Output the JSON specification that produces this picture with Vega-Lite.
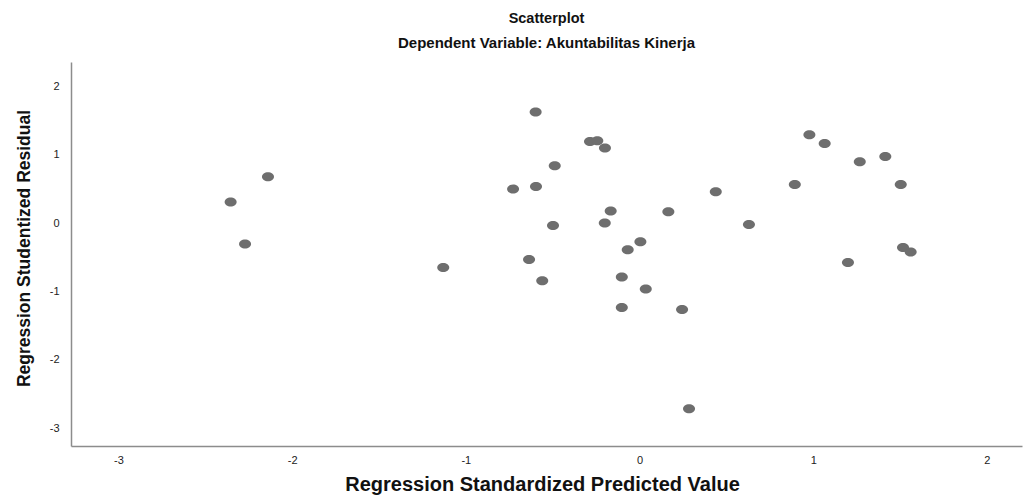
{
  "$schema": "https://vega.github.io/schema/vega-lite/v6.json",
  "autosize": "none",
  "width": 951,
  "height": 384,
  "padding": {"left": 71, "top": 62, "right": 1, "bottom": 51},
  "background": "white",
  "title": {
    "text": "Scatterplot",
    "subtitle": "Dependent Variable: Akuntabilitas Kinerja",
    "anchor": "middle",
    "font": "Liberation Sans",
    "fontSize": 14.5,
    "fontWeight": "bold",
    "color": "#111111",
    "subtitleFont": "Liberation Sans",
    "subtitleFontSize": 15,
    "subtitleFontWeight": "bold",
    "subtitleColor": "#111111",
    "subtitlePadding": 10,
    "offset": 10
  },
  "config": {
    "view": {"stroke": null},
    "axis": {
      "grid": false,
      "ticks": false,
      "domainColor": "#8c8c8c",
      "domainWidth": 1.5,
      "labelFont": "Liberation Sans",
      "labelFontSize": 11,
      "labelColor": "#222222",
      "titleFont": "Liberation Sans",
      "titleFontWeight": "bold",
      "titleColor": "#111111"
    }
  },
  "data": {
    "values": [
      {"pred": -2.139, "resid": 0.681},
      {"pred": -2.354, "resid": 0.311},
      {"pred": -2.271, "resid": -0.304},
      {"pred": -1.130, "resid": -0.648},
      {"pred": -0.598, "resid": 1.628},
      {"pred": -0.285, "resid": 1.198},
      {"pred": -0.243, "resid": 1.208},
      {"pred": -0.199, "resid": 1.101},
      {"pred": -0.488, "resid": 0.842},
      {"pred": -0.728, "resid": 0.501},
      {"pred": -0.596, "resid": 0.539},
      {"pred": 0.439, "resid": 0.461},
      {"pred": -0.166, "resid": 0.179},
      {"pred": 0.166, "resid": 0.168},
      {"pred": -0.200, "resid": 0.003},
      {"pred": -0.498, "resid": -0.032},
      {"pred": 0.630, "resid": -0.018},
      {"pred": 0.005, "resid": -0.271},
      {"pred": -0.068, "resid": -0.388},
      {"pred": -0.636, "resid": -0.530},
      {"pred": -0.560, "resid": -0.842},
      {"pred": -0.102, "resid": -0.788},
      {"pred": 0.036, "resid": -0.963},
      {"pred": -0.102, "resid": -1.233},
      {"pred": 0.245, "resid": -1.262},
      {"pred": 0.285, "resid": -2.716},
      {"pred": 0.978, "resid": 1.296},
      {"pred": 1.066, "resid": 1.168},
      {"pred": 1.268, "resid": 0.900},
      {"pred": 1.415, "resid": 0.978},
      {"pred": 0.894, "resid": 0.568},
      {"pred": 1.504, "resid": 0.568},
      {"pred": 1.517, "resid": -0.354},
      {"pred": 1.561, "resid": -0.422},
      {"pred": 1.200, "resid": -0.574}
    ]
  },
  "mark": {
    "type": "point",
    "filled": true,
    "opacity": 1,
    "color": "#6e6e6e",
    "size": 144,
    "shape": "M-1,0 C-1,-0.414 -0.552,-0.75 0,-0.75 C0.552,-0.75 1,-0.414 1,0 C1,0.414 0.552,0.75 0,0.75 C-0.552,0.75 -1,0.414 -1,0 Z"
  },
  "encoding": {
    "x": {
      "field": "pred",
      "type": "quantitative",
      "title": "Regression Standardized Predicted Value",
      "scale": {"domain": [-3.273, 2.202], "nice": false, "zero": false},
      "axis": {
        "values": [-3, -2, -1, 0, 1, 2],
        "labelExpr": "datum.value < 0 ? '-' + abs(datum.value) : '' + datum.value",
        "labelPadding": 8,
        "titleFontSize": 20,
        "titlePadding": 9,
        "titleX": 471
      }
    },
    "y": {
      "field": "resid",
      "type": "quantitative",
      "title": "Regression Studentized Residual",
      "scale": {"domain": [-3.26, 2.36], "nice": false, "zero": false},
      "axis": {
        "values": [-3, -2, -1, 0, 1, 2],
        "labelExpr": "datum.value < 0 ? '-' + abs(datum.value) : '' + datum.value",
        "labelPadding": 12,
        "titleFontSize": 17.5,
        "titlePadding": 16,
        "titleY": 186
      }
    }
  }
}
